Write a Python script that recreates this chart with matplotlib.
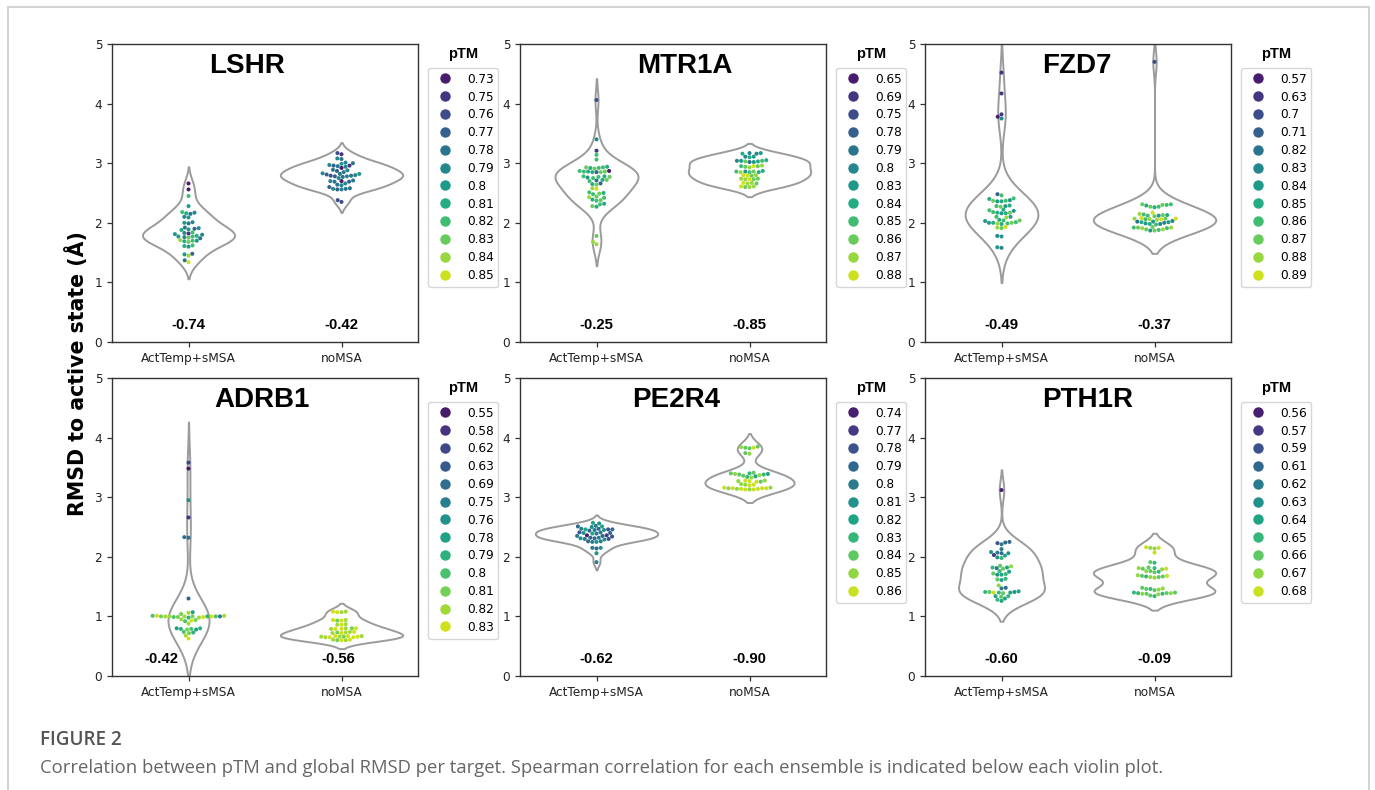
import matplotlib
matplotlib.use('Agg')
import matplotlib.pyplot as plt
from matplotlib.lines import Line2D
import numpy as np
import pandas as pd
import seaborn as sns

plt.rcParams['font.family'] = ['DejaVu Sans']
plt.rcParams['axes.edgecolor'] = '#333333'
plt.rcParams['xtick.color'] = '#333333'
plt.rcParams['ytick.color'] = '#333333'
plt.rcParams['xtick.labelcolor'] = '#222222'
plt.rcParams['ytick.labelcolor'] = '#222222'

# ---------------- data ----------------
groups = ['ActTemp+sMSA', 'noMSA']

# LSHR
lshr_levels = [0.73, 0.75, 0.76, 0.77, 0.78, 0.79, 0.80, 0.81, 0.82, 0.83, 0.84, 0.85]
lshr_act = [2.66, 2.56, 2.45, 2.28, 2.18, 2.17, 2.16, 2.15, 2.10, 2.09, 2.01, 2.00, 1.99, 1.92,
            1.91, 1.90, 1.89, 1.88, 1.84, 1.83, 1.82, 1.81, 1.80, 1.78, 1.77, 1.77, 1.76, 1.75,
            1.74, 1.71, 1.70, 1.70, 1.69, 1.68, 1.62, 1.61, 1.60, 1.48, 1.47, 1.45, 1.37, 1.34]
lshr_act_ptm = [0.73, 0.73, 0.82, 0.80, 0.82, 0.79, 0.81, 0.78, 0.79, 0.80, 0.79, 0.80, 0.78, 0.78,
                0.79, 0.77, 0.80, 0.81, 0.82, 0.79, 0.75, 0.80, 0.79, 0.81, 0.82, 0.80, 0.79, 0.83,
                0.78, 0.84, 0.82, 0.80, 0.81, 0.83, 0.82, 0.81, 0.80, 0.77, 0.80, 0.84, 0.78, 0.85]
lshr_no = [3.17, 3.15, 3.08, 3.07, 3.01, 3.00, 2.99, 2.97, 2.96, 2.96, 2.95, 2.94, 2.92, 2.89,
           2.88, 2.87, 2.85, 2.83, 2.82, 2.82, 2.81, 2.80, 2.79, 2.79, 2.78, 2.78, 2.77, 2.75,
           2.71, 2.70, 2.70, 2.69, 2.69, 2.66, 2.64, 2.63, 2.60, 2.58, 2.57, 2.57, 2.56, 2.56,
           2.38, 2.35]
lshr_no_ptm = [0.76, 0.75, 0.79, 0.78, 0.79, 0.78, 0.80, 0.79, 0.75, 0.77, 0.78, 0.79, 0.73, 0.78,
               0.79, 0.77, 0.78, 0.79, 0.78, 0.80, 0.77, 0.79, 0.78, 0.76, 0.79, 0.77, 0.78, 0.79,
               0.78, 0.73, 0.79, 0.78, 0.77, 0.79, 0.78, 0.79, 0.77, 0.78, 0.79, 0.78, 0.77, 0.79,
               0.76, 0.76]

# MTR1A
mtr1a_levels = [0.65, 0.69, 0.75, 0.78, 0.79, 0.80, 0.83, 0.84, 0.85, 0.86, 0.87, 0.88]
mtr1a_act = [4.06, 3.40, 3.21, 3.14, 3.06, 2.94, 2.93, 2.93, 2.92, 2.92, 2.91, 2.87, 2.87, 2.86,
             2.86, 2.86, 2.85, 2.85, 2.85, 2.78, 2.78, 2.77, 2.77, 2.76, 2.75, 2.72, 2.72, 2.71,
             2.70, 2.66, 2.65, 2.64, 2.58, 2.57, 2.51, 2.50, 2.49, 2.48, 2.44, 2.43, 2.42, 2.39,
             2.38, 2.37, 2.32, 2.31, 2.28, 2.27, 1.78, 1.68, 1.64]
mtr1a_act_ptm = [0.75, 0.80, 0.69, 0.85, 0.85, 0.84, 0.85, 0.86, 0.85, 0.84, 0.86, 0.65, 0.85, 0.84,
                 0.86, 0.85, 0.86, 0.84, 0.78, 0.85, 0.84, 0.86, 0.85, 0.83, 0.85, 0.86, 0.84, 0.79,
                 0.85, 0.78, 0.84, 0.86, 0.87, 0.88, 0.85, 0.84, 0.86, 0.85, 0.86, 0.87, 0.85, 0.84,
                 0.86, 0.85, 0.84, 0.85, 0.86, 0.84, 0.86, 0.87, 0.87]
mtr1a_no = [3.17, 3.17, 3.16, 3.16, 3.11, 3.11, 3.10, 3.05, 3.04, 3.04, 3.04, 3.03, 3.03, 3.02,
            3.02, 2.96, 2.95, 2.95, 2.95, 2.94, 2.93, 2.87, 2.86, 2.86, 2.86, 2.85, 2.85, 2.85,
            2.80, 2.80, 2.79, 2.79, 2.74, 2.74, 2.73, 2.73, 2.73, 2.67, 2.67, 2.66, 2.66, 2.61,
            2.61, 2.60, 2.60]
mtr1a_no_ptm = [0.80, 0.83, 0.80, 0.84, 0.83, 0.80, 0.84, 0.84, 0.83, 0.85, 0.80, 0.86, 0.84, 0.83,
                0.79, 0.87, 0.86, 0.88, 0.85, 0.86, 0.87, 0.84, 0.85, 0.86, 0.83, 0.85, 0.84, 0.87,
                0.88, 0.87, 0.88, 0.86, 0.87, 0.86, 0.88, 0.86, 0.87, 0.87, 0.88, 0.86, 0.87, 0.88,
                0.87, 0.87, 0.86]

# FZD7
fzd7_levels = [0.57, 0.63, 0.70, 0.71, 0.82, 0.83, 0.84, 0.85, 0.86, 0.87, 0.88, 0.89]
fzd7_act = [4.52, 4.17, 3.82, 3.78, 3.75, 2.48, 2.46, 2.41, 2.40, 2.38, 2.37, 2.37, 2.36, 2.36,
            2.29, 2.28, 2.28, 2.27, 2.22, 2.21, 2.20, 2.18, 2.17, 2.17, 2.16, 2.16, 2.10, 2.10,
            2.09, 2.05, 2.04, 2.04, 2.03, 2.01, 2.00, 2.00, 2.00, 1.99, 1.99, 1.98, 1.93, 1.92,
            1.91, 1.78, 1.77, 1.59, 1.58]
fzd7_act_ptm = [0.63, 0.63, 0.63, 0.57, 0.83, 0.71, 0.86, 0.86, 0.85, 0.84, 0.86, 0.87, 0.85, 0.84,
                0.85, 0.86, 0.84, 0.87, 0.85, 0.86, 0.84, 0.86, 0.85, 0.87, 0.84, 0.85, 0.86, 0.84,
                0.88, 0.85, 0.86, 0.87, 0.84, 0.86, 0.85, 0.87, 0.84, 0.86, 0.88, 0.85, 0.89, 0.88,
                0.87, 0.83, 0.84, 0.84, 0.83]
fzd7_no = [4.70, 2.31, 2.31, 2.30, 2.30, 2.29, 2.27, 2.27, 2.26, 2.17, 2.15, 2.14, 2.13, 2.13,
           2.12, 2.12, 2.11, 2.08, 2.07, 2.07, 2.07, 2.06, 2.06, 2.06, 2.05, 2.03, 2.02, 2.02,
           2.01, 2.01, 2.00, 1.99, 1.98, 1.98, 1.97, 1.93, 1.92, 1.92, 1.92, 1.91, 1.91, 1.89,
           1.89, 1.88, 1.87, 1.87]
fzd7_no_ptm = [0.70, 0.87, 0.86, 0.87, 0.86, 0.85, 0.86, 0.87, 0.85, 0.89, 0.88, 0.86, 0.85, 0.87,
               0.84, 0.86, 0.87, 0.89, 0.88, 0.89, 0.87, 0.88, 0.89, 0.86, 0.88, 0.83, 0.84, 0.82,
               0.85, 0.84, 0.83, 0.84, 0.85, 0.83, 0.86, 0.87, 0.88, 0.86, 0.87, 0.88, 0.86, 0.87,
               0.88, 0.86, 0.84, 0.87]

# ADRB1
adrb1_levels = [0.55, 0.58, 0.62, 0.63, 0.69, 0.75, 0.76, 0.78, 0.79, 0.80, 0.81, 0.82, 0.83]
adrb1_act = [3.58, 3.48, 2.95, 2.66, 2.33, 2.32, 1.30, 1.07, 1.06, 1.04, 1.01, 1.01, 1.01, 1.00,
             1.00, 1.00, 1.00, 1.00, 1.00, 1.00, 1.00, 1.00, 0.99, 0.99, 0.99, 0.98, 0.98, 0.95,
             0.94, 0.93, 0.92, 0.88, 0.80, 0.80, 0.79, 0.79, 0.78, 0.78, 0.74, 0.73, 0.72, 0.68,
             0.63]
adrb1_act_ptm = [0.62, 0.55, 0.76, 0.58, 0.69, 0.69, 0.63, 0.78, 0.82, 0.81, 0.83, 0.82, 0.80, 0.79,
                 0.81, 0.82, 0.83, 0.80, 0.82, 0.81, 0.75, 0.82, 0.83, 0.80, 0.81, 0.82, 0.79, 0.82,
                 0.81, 0.83, 0.80, 0.82, 0.79, 0.78, 0.80, 0.79, 0.81, 0.78, 0.80, 0.79, 0.81, 0.82,
                 0.83]
adrb1_no = [1.08, 1.08, 1.07, 1.07, 0.94, 0.94, 0.93, 0.93, 0.87, 0.86, 0.86, 0.80, 0.80, 0.80,
            0.79, 0.79, 0.79, 0.74, 0.74, 0.73, 0.73, 0.72, 0.72, 0.67, 0.67, 0.67, 0.66, 0.66,
            0.66, 0.66, 0.65, 0.65, 0.65, 0.61, 0.61, 0.60, 0.60, 0.60]
adrb1_no_ptm = [0.83, 0.82, 0.83, 0.82, 0.83, 0.82, 0.83, 0.81, 0.82, 0.83, 0.82, 0.83, 0.82, 0.81,
                0.83, 0.82, 0.83, 0.82, 0.83, 0.81, 0.82, 0.83, 0.82, 0.83, 0.82, 0.83, 0.82, 0.83,
                0.81, 0.82, 0.83, 0.82, 0.83, 0.82, 0.83, 0.82, 0.83, 0.81]

# PE2R4
pe2r4_levels = [0.74, 0.77, 0.78, 0.79, 0.80, 0.81, 0.82, 0.83, 0.84, 0.85, 0.86]
pe2r4_act = [2.57, 2.56, 2.52, 2.51, 2.51, 2.50, 2.47, 2.47, 2.46, 2.46, 2.46, 2.45, 2.45, 2.44,
             2.41, 2.41, 2.40, 2.40, 2.39, 2.39, 2.36, 2.36, 2.35, 2.35, 2.34, 2.32, 2.32, 2.31,
             2.31, 2.30, 2.30, 2.29, 2.26, 2.26, 2.25, 2.25, 2.15, 2.15, 2.14, 2.06, 1.91]
pe2r4_act_ptm = [0.82, 0.81, 0.80, 0.82, 0.79, 0.81, 0.79, 0.80, 0.78, 0.82, 0.79, 0.81, 0.80, 0.79,
                 0.80, 0.78, 0.81, 0.79, 0.80, 0.82, 0.74, 0.77, 0.79, 0.80, 0.78, 0.79, 0.80, 0.81,
                 0.79, 0.78, 0.80, 0.81, 0.80, 0.79, 0.81, 0.80, 0.80, 0.81, 0.79, 0.81, 0.80]
pe2r4_no = [3.85, 3.84, 3.83, 3.83, 3.82, 3.74, 3.73, 3.41, 3.40, 3.40, 3.39, 3.39, 3.38, 3.38,
            3.37, 3.36, 3.35, 3.34, 3.33, 3.28, 3.28, 3.27, 3.27, 3.26, 3.26, 3.22, 3.21, 3.21,
            3.20, 3.16, 3.16, 3.15, 3.15, 3.15, 3.15, 3.14, 3.14, 3.14, 3.13, 3.13, 3.13]
pe2r4_no_ptm = [0.84, 0.85, 0.84, 0.86, 0.84, 0.84, 0.85, 0.84, 0.83, 0.84, 0.85, 0.82, 0.84, 0.83,
                0.85, 0.84, 0.82, 0.83, 0.85, 0.85, 0.86, 0.85, 0.86, 0.84, 0.86, 0.85, 0.86, 0.85,
                0.86, 0.86, 0.85, 0.86, 0.86, 0.85, 0.86, 0.86, 0.85, 0.86, 0.86, 0.85, 0.86]

# PTH1R
pth1r_levels = [0.56, 0.57, 0.59, 0.61, 0.62, 0.63, 0.64, 0.65, 0.66, 0.67, 0.68]
pth1r_act = [3.12, 2.25, 2.24, 2.23, 2.21, 2.13, 2.08, 2.07, 2.06, 2.06, 2.03, 2.02, 1.99, 1.98,
             1.85, 1.84, 1.82, 1.82, 1.81, 1.80, 1.76, 1.75, 1.72, 1.71, 1.70, 1.70, 1.63, 1.62,
             1.61, 1.52, 1.48, 1.47, 1.42, 1.41, 1.41, 1.41, 1.40, 1.40, 1.40, 1.39, 1.34, 1.34,
             1.33, 1.30, 1.28, 1.26]
pth1r_act_ptm = [0.56, 0.61, 0.61, 0.59, 0.62, 0.62, 0.63, 0.62, 0.63, 0.61, 0.57, 0.64, 0.63, 0.65,
                 0.66, 0.67, 0.64, 0.65, 0.62, 0.66, 0.65, 0.64, 0.66, 0.65, 0.64, 0.63, 0.65, 0.66,
                 0.64, 0.67, 0.61, 0.62, 0.64, 0.65, 0.66, 0.63, 0.68, 0.64, 0.65, 0.66, 0.64, 0.65,
                 0.66, 0.64, 0.65, 0.64]
pth1r_no = [2.16, 2.15, 2.15, 2.14, 2.07, 1.91, 1.90, 1.82, 1.81, 1.81, 1.80, 1.80, 1.79, 1.76,
            1.76, 1.75, 1.74, 1.69, 1.68, 1.68, 1.67, 1.67, 1.66, 1.66, 1.65, 1.48, 1.47, 1.46,
            1.46, 1.45, 1.44, 1.40, 1.40, 1.39, 1.39, 1.39, 1.38, 1.38, 1.38, 1.37, 1.35, 1.34]
pth1r_no_ptm = [0.68, 0.67, 0.68, 0.67, 0.68, 0.66, 0.65, 0.66, 0.67, 0.65, 0.66, 0.68, 0.67, 0.66,
                0.67, 0.65, 0.66, 0.67, 0.66, 0.68, 0.65, 0.66, 0.67, 0.66, 0.67, 0.66, 0.67, 0.65,
                0.66, 0.67, 0.66, 0.65, 0.66, 0.67, 0.65, 0.66, 0.67, 0.65, 0.66, 0.67, 0.66, 0.65]

# Spearman correlation per ensemble
spearman = {
    'LSHR': ['-0.74', '-0.42'], 'MTR1A': ['-0.25', '-0.85'], 'FZD7': ['-0.49', '-0.37'],
    'ADRB1': ['-0.42', '-0.56'], 'PE2R4': ['-0.62', '-0.90'], 'PTH1R': ['-0.60', '-0.09'],
}

panels = [
    ('LSHR', lshr_levels, lshr_act, lshr_act_ptm, lshr_no, lshr_no_ptm),
    ('MTR1A', mtr1a_levels, mtr1a_act, mtr1a_act_ptm, mtr1a_no, mtr1a_no_ptm),
    ('FZD7', fzd7_levels, fzd7_act, fzd7_act_ptm, fzd7_no, fzd7_no_ptm),
    ('ADRB1', adrb1_levels, adrb1_act, adrb1_act_ptm, adrb1_no, adrb1_no_ptm),
    ('PE2R4', pe2r4_levels, pe2r4_act, pe2r4_act_ptm, pe2r4_no, pe2r4_no_ptm),
    ('PTH1R', pth1r_levels, pth1r_act, pth1r_act_ptm, pth1r_no, pth1r_no_ptm),
]

# ---------------- layout (pixels of the 1375x790 canvas) ----------------
W, H = 1375, 790
col_left = [112, 520, 925]
row_top = [44, 378]
ax_w, ax_h = 306, 298
title_x = [0.44, 0.54, 0.495, 0.49, 0.51, 0.53]
corr_x = [[0, 1], [0, 1], [0, 1], [-0.18, 0.98], [0, 1], [0, 1]]

fig = plt.figure(figsize=(W / 100, H / 100), dpi=100)

for i, (name, levels, act, act_ptm, no, no_ptm) in enumerate(panels):
    r, c = divmod(i, 3)
    ax = fig.add_axes([col_left[c] / W, 1 - (row_top[r] + ax_h) / H, ax_w / W, ax_h / H])

    df = pd.DataFrame({
        'group': [groups[0]] * len(act) + [groups[1]] * len(no),
        'rmsd': act + no,
        'ptm': [f'{v:g}' for v in act_ptm + no_ptm],
    })
    labels = [f'{v:g}' for v in levels]
    colors = sns.color_palette('viridis', len(levels))

    sns.violinplot(data=df, x='group', y='rmsd', order=groups, color='white',
                   linecolor='#9b9b9b', linewidth=1.4, inner=None, cut=2,
                   density_norm='area', ax=ax)
    sns.swarmplot(data=df, x='group', y='rmsd', order=groups, hue='ptm',
                  hue_order=labels, palette=colors, size=2.9, legend=False, ax=ax)

    ax.set_ylim(0, 5)
    ax.set_xlim(-0.5, 1.5)
    ax.set_yticks(range(6))
    ax.set_xlabel('')
    ax.set_ylabel('')
    ax.tick_params(labelsize=8.7, length=3.5, width=0.9)
    for sp in ax.spines.values():
        sp.set_linewidth(1.0)

    ax.text(title_x[i], 0.925, name, transform=ax.transAxes, ha='center', va='center',
            fontsize=20, fontweight='bold', family='Liberation Sans')
    for k in range(2):
        ax.text(corr_x[i][k], 0.29, spearman[name][k], ha='center', va='center',
                fontsize=10.7, fontweight='bold', family='Liberation Sans')

    handles = [Line2D([], [], marker='o', linestyle='', markersize=7.5, color=col,
                      markeredgewidth=0) for col in colors]
    ax.legend(handles, labels, loc='upper left', bbox_to_anchor=(1.033, 0.92),
              borderaxespad=0, fontsize=8.7, labelspacing=0.40, frameon=True)
    ax.text(1.147, 0.965, 'pTM', transform=ax.transAxes, ha='center', va='center',
            fontsize=10.5, fontweight='bold', family='Liberation Sans')

fig.text(77 / W, 1 - 374 / H, 'RMSD to active state (Å)', rotation=90, ha='center',
         va='center', fontsize=14.8, fontweight='bold')

# caption
fig.text(40 / W, 1 - 740 / H, 'FIGURE 2', fontsize=13.6, fontweight='semibold',
         color='#555555', family='Open Sans', va='center')
fig.text(40 / W, 1 - 768 / H, 'Correlation between pTM and global RMSD per target. '
         'Spearman correlation for each ensemble is indicated below each violin plot.',
         fontsize=13.3, color='#666666', family='Open Sans', va='center')

# page frame
frame_kw = dict(transform=fig.transFigure, color='#d4d4d4', lw=1.5)
fig.add_artist(Line2D([8 / W, 8 / W], [0, 1 - 7 / H], **frame_kw))
fig.add_artist(Line2D([1369 / W, 1369 / W], [0, 1 - 7 / H], **frame_kw))
fig.add_artist(Line2D([8 / W, 1369 / W], [1 - 7 / H, 1 - 7 / H], **frame_kw))

fig.savefig('out.png', dpi=100)
